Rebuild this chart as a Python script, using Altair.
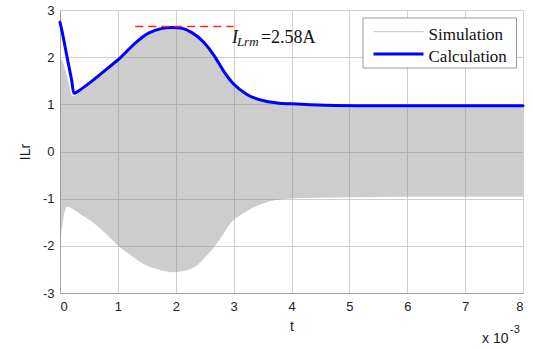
import altair as alt
import pandas as pd

# ---- data (t in units of 1e-3 s) ----
calc_t = [0, 0.03, 0.06, 0.1, 0.15, 0.2, 0.24, 0.35, 0.53, 0.8, 1.045, 1.3, 1.53, 1.77, 1.94, 2.11,
          2.28, 2.48, 2.66, 2.83, 3.0, 3.23, 3.5, 3.75, 4.0, 4.33, 5.13, 6.0, 7.0, 8.0]
calc_i = [2.74, 2.58, 2.40, 2.14, 1.83, 1.52, 1.235, 1.31, 1.47, 1.74, 1.99, 2.30, 2.51, 2.61, 2.63, 2.61,
          2.52, 2.32, 2.04, 1.70, 1.43, 1.21, 1.08, 1.03, 1.01, 0.99, 0.97, 0.97, 0.97, 0.97]

sim_t = [0, 0.01, 0.05, 0.12, 0.22, 0.35, 0.53, 0.8, 0.99, 1.2, 1.42, 1.7, 1.97, 2.15, 2.34, 2.5, 2.63, 2.8,
         2.97, 3.1, 3.26, 3.45, 3.61, 3.8, 4.07, 4.5, 5.0, 6.0, 7.0, 8.0]
sim_hi = [1.98, 1.97, 1.90, 1.60, 1.17, 1.27, 1.44, 1.71, 1.91, 2.14, 2.38, 2.56, 2.60, 2.56, 2.45, 2.28, 2.08,
          1.76, 1.45, 1.30, 1.18, 1.07, 1.03, 1.00, 0.98, 0.97, 0.95, 0.95, 0.95, 0.95]
sim_lo = [-2.30, -2.00, -1.50, -1.17, -1.22, -1.33, -1.47, -1.75, -1.98, -2.18, -2.37, -2.50, -2.56, -2.53,
          -2.44, -2.25, -2.08, -1.79, -1.49, -1.36, -1.24, -1.13, -1.06, -1.02, -0.99, -0.98, -0.97, -0.96,
          -0.96, -0.96]

peak_t_start = [1.3]
peak_t_end = [3.0]
peak_i = [2.65]

x_ticks = [0, 1, 2, 3, 4, 5, 6, 7, 8]
y_ticks = [-3, -2, -1, 0, 1, 2, 3]

calc_df = pd.DataFrame({"t": calc_t, "i": calc_i})
sim_df = pd.DataFrame({"t": sim_t, "hi": sim_hi, "lo": sim_lo})
peak_df = pd.DataFrame({"t": peak_t_start, "t2": peak_t_end, "i": peak_i})
ann_df = pd.DataFrame({"t": [2.97], "i": [2.30]})
one = pd.DataFrame({"k": [0]})

xs = alt.Scale(domain=[0, 8], nice=False)
ys = alt.Scale(domain=[-3, 3], nice=False)

lab = "datum.value + ''"
xaxis = alt.Axis(values=x_ticks, title="t", grid=True, tickSize=0, labelPadding=7,
                 titlePadding=6, labelExpr=lab)
yaxis = alt.Axis(values=y_ticks, title="ILr", grid=True, tickSize=0, labelPadding=6,
                 titlePadding=10, labelExpr=lab)

sim = alt.Chart(sim_df).mark_area(color="#888888", opacity=0.42, interpolate="monotone").encode(
    x=alt.X("t:Q", scale=xs, axis=xaxis),
    y=alt.Y("hi:Q", scale=ys, axis=yaxis),
    y2="lo:Q",
)

calc = alt.Chart(calc_df).mark_line(color="#0000ff", strokeWidth=3, interpolate="monotone",
                                    strokeJoin="round", strokeCap="round").encode(
    x=alt.X("t:Q", scale=xs),
    y=alt.Y("i:Q", scale=ys),
)

peak = alt.Chart(peak_df).mark_rule(color="#ff2020", strokeWidth=1.5, strokeDash=[8, 5]).encode(
    x=alt.X("t:Q", scale=xs), x2="t2:Q", y=alt.Y("i:Q", scale=ys)
)

serif = "Liberation Serif"
ann_I = alt.Chart(ann_df).mark_text(text="I", font=serif, fontStyle="italic", fontSize=18,
                                    align="left", baseline="alphabetic", color="#111").encode(
    x=alt.X("t:Q", scale=xs), y=alt.Y("i:Q", scale=ys))
ann_sub = alt.Chart(ann_df).mark_text(text="Lrm", font=serif, fontStyle="italic", fontSize=13,
                                      align="left", baseline="alphabetic", dx=5, dy=3, color="#111").encode(
    x=alt.X("t:Q", scale=xs), y=alt.Y("i:Q", scale=ys))
ann_val = alt.Chart(ann_df).mark_text(text="=2.58A", font=serif, fontSize=18,
                                      align="left", baseline="alphabetic", dx=29, color="#111").encode(
    x=alt.X("t:Q", scale=xs), y=alt.Y("i:Q", scale=ys))

# legend (pixel positions in plot area)
leg_box = alt.Chart(one).mark_rect(fill="white", stroke="#9a9a9a", strokeWidth=1).encode(
    x=alt.value(303), x2=alt.value(456.5), y=alt.value(8), y2=alt.value(58))
leg_sim = alt.Chart(one).mark_rule(color="#c4c4c4", strokeWidth=1).encode(
    x=alt.value(313.5), x2=alt.value(363.5), y=alt.value(21.7))
leg_calc = alt.Chart(one).mark_rule(color="#0000ff", strokeWidth=3).encode(
    x=alt.value(313.5), x2=alt.value(363.5), y=alt.value(44))
leg_t1 = alt.Chart(one).mark_text(text="Simulation", font=serif, fontSize=17, align="left",
                                  baseline="alphabetic", color="#111").encode(
    x=alt.value(368.5), y=alt.value(29.5))
leg_t2 = alt.Chart(one).mark_text(text="Calculation", font=serif, fontSize=17, align="left",
                                  baseline="alphabetic", color="#111").encode(
    x=alt.value(368.5), y=alt.value(52))

# exponent note
exp1 = alt.Chart(one).mark_text(text="x 10", font="Liberation Sans", fontSize=14, align="left",
                                baseline="alphabetic", color="#222").encode(
    x=alt.value(422), y=alt.value(333))
exp2 = alt.Chart(one).mark_text(text="-3", font="Liberation Sans", fontSize=11, align="left",
                                baseline="alphabetic", color="#222").encode(
    x=alt.value(450), y=alt.value(323))

chart = alt.layer(
    sim, calc, peak, ann_I, ann_sub, ann_val,
    leg_box, leg_sim, leg_calc, leg_t1, leg_t2, exp1, exp2,
).properties(
    width=463, height=283,
    autosize=alt.AutoSizeParams(type="none"),
    padding={"left": 60, "top": 10, "right": 10, "bottom": 56},
    background="white",
).configure_view(
    stroke="#c8c8c8", strokeWidth=1
).configure_axis(
    labelFont="Liberation Sans", labelFontSize=13, labelColor="#222",
    titleFont="Liberation Sans", titleFontSize=14, titleFontWeight="normal", titleColor="#222",
    gridColor="#cfcfcf", gridWidth=1, domainColor="#a8a8a8", domainWidth=1,
)

chart.save("out.html", embed_options={"renderer": "svg", "actions": False})
